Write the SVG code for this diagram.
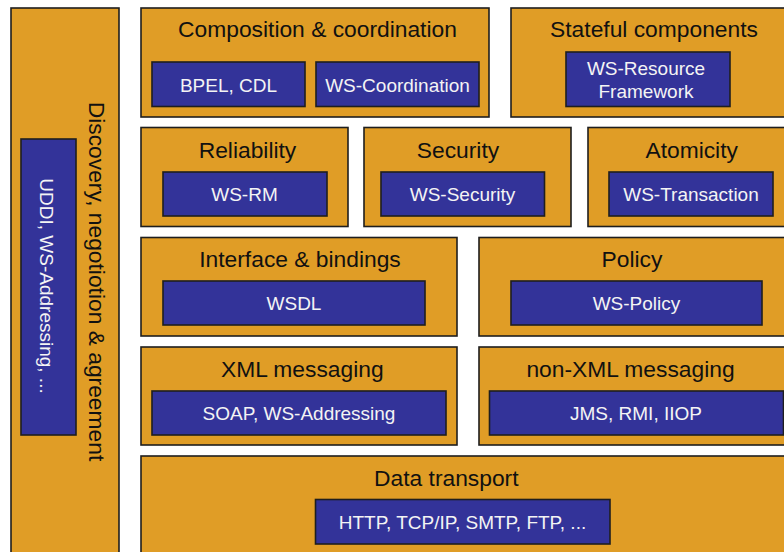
<svg xmlns="http://www.w3.org/2000/svg" width="784" height="552" viewBox="0 0 784 552">
<style>
.o{fill:#E09D26;stroke:#1e1e1e;stroke-width:1.6}
.b{fill:#333399;stroke:#1e1e1e;stroke-width:1.6}
.t{font-family:"Liberation Sans",Arial,sans-serif;font-size:22.8px;fill:#111;text-anchor:middle}
.w{font-family:"Liberation Sans",Arial,sans-serif;font-size:19px;fill:#f4f4f4;text-anchor:middle}
</style>
<rect width="784" height="552" fill="#ffffff"/>
<g id="discovery">
<rect class="o" x="11" y="8" width="108" height="560"/>
<rect class="b" x="21" y="139" width="55" height="296"/>
<text class="t" transform="translate(88.5,281.5) rotate(90)">Discovery, negotiotion &amp; agreement</text>
<text class="w" transform="translate(40,286) rotate(90)">UDDI, WS-Addressing, ...</text>
</g>
<g id="composition">
<rect class="o" x="141" y="8" width="348" height="109"/>
<text class="t" x="317.5" y="37">Composition &amp; coordination</text>
<rect class="b" x="152" y="62" width="153" height="44.5"/>
<text class="w" x="228.5" y="92">BPEL, CDL</text>
<rect class="b" x="316" y="62" width="163" height="44.5"/>
<text class="w" x="397.5" y="92">WS-Coordination</text>
</g>
<g id="stateful">
<rect class="o" x="511" y="8" width="290" height="109"/>
<text class="t" x="654" y="37.3">Stateful components</text>
<rect class="b" x="566" y="52" width="164" height="54.5"/>
<text class="w" x="646" y="75">WS-Resource</text>
<text class="w" x="646" y="98.3">Framework</text>
</g>
<g id="reliability">
<rect class="o" x="141" y="127.5" width="207" height="99"/>
<text class="t" x="247.5" y="158.3">Reliability</text>
<rect class="b" x="163" y="172" width="164" height="44"/>
<text class="w" x="244.5" y="201">WS-RM</text>
</g>
<g id="security">
<rect class="o" x="364" y="127.5" width="207" height="99"/>
<text class="t" x="458" y="158.3">Security</text>
<rect class="b" x="381" y="172" width="163.5" height="44"/>
<text class="w" x="462.5" y="201">WS-Security</text>
</g>
<g id="atomicity">
<rect class="o" x="588" y="127.5" width="213" height="99"/>
<text class="t" x="691.7" y="158.3">Atomicity</text>
<rect class="b" x="609" y="172" width="164" height="44"/>
<text class="w" x="691" y="201">WS-Transaction</text>
</g>
<g id="interface">
<rect class="o" x="141" y="237.5" width="316" height="98.5"/>
<text class="t" x="300" y="267">Interface &amp; bindings</text>
<rect class="b" x="163" y="281" width="262" height="44"/>
<text class="w" x="294" y="310">WSDL</text>
</g>
<g id="policy">
<rect class="o" x="479" y="237.5" width="322" height="98.5"/>
<text class="t" x="632" y="267">Policy</text>
<rect class="b" x="511" y="281" width="251" height="44"/>
<text class="w" x="636.5" y="310">WS-Policy</text>
</g>
<g id="xml">
<rect class="o" x="141" y="347" width="316" height="98"/>
<text class="t" x="302.3" y="377">XML messaging</text>
<rect class="b" x="152" y="391" width="294" height="44"/>
<text class="w" x="299" y="420">SOAP, WS-Addressing</text>
</g>
<g id="nonxml">
<rect class="o" x="479" y="347" width="322" height="98"/>
<text class="t" x="630.5" y="377">non-XML messaging</text>
<rect class="b" x="489.5" y="391" width="294" height="44"/>
<text class="w" x="636" y="420">JMS, RMI, IIOP</text>
</g>
<g id="transport">
<rect class="o" x="141" y="456" width="660" height="120"/>
<text class="t" x="446.3" y="486">Data transport</text>
<rect class="b" x="315.5" y="499.5" width="294.5" height="44.5"/>
<text class="w" x="462.5" y="529">HTTP, TCP/IP, SMTP, FTP, ...</text>
</g>
<g id="connectors"/>
</svg>
